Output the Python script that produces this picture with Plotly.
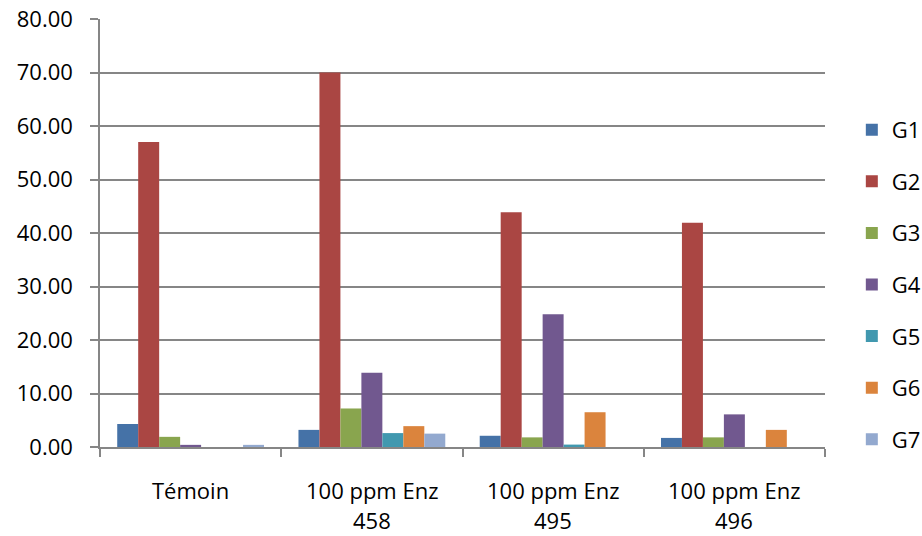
import plotly.graph_objects as go

categories = ["Témoin", "100 ppm Enz<br>458", "100 ppm Enz<br>495", "100 ppm Enz<br>496"]
series_names = ["G1", "G2", "G3", "G4", "G5", "G6", "G7"]
g1 = [4.3, 3.2, 2.1, 1.7]
g2 = [57.0, 70.0, 43.9, 41.9]
g3 = [1.9, 7.2, 1.8, 1.8]
g4 = [0.4, 13.9, 24.8, 6.1]
g5 = [0.0, 2.6, 0.45, 0.0]
g6 = [0.0, 3.9, 6.5, 3.2]
g7 = [0.4, 2.5, 0.0, 0.0]
series_values = [g1, g2, g3, g4, g5, g6, g7]
colors = ["#4572A7", "#AA4643", "#89A54E", "#71588F", "#4198AF", "#DB843D", "#93A9CF"]
y_ticks = [0, 10, 20, 30, 40, 50, 60, 70, 80]

font_family = "Open Sans, Liberation Sans, sans-serif"
axis_grey = "#868686"
plot_h = 536 - 19 - 89

fig = go.Figure()
for name, vals, col in zip(series_names, series_values, colors):
    fig.add_trace(go.Bar(
        x=categories, y=vals, name=name, legendgroup=name,
        marker=dict(color=col, line=dict(width=0)),
    ))

# Category labels: each line placed separately for wider line spacing
annotations = []
for cat in categories:
    for i, line in enumerate(cat.split("<br>")):
        annotations.append(dict(
            x=cat, xref="x", y=(-43 - 30 * i) / plot_h, yref="paper",
            text=line, showarrow=False, xanchor="center", yanchor="middle",
            font=dict(size=22, family=font_family, color="#000000"),
        ))

fig.update_layout(
    width=922, height=536,
    margin=dict(l=100, r=97, t=19, b=89, autoexpand=False),
    paper_bgcolor="white", plot_bgcolor="white",
    barmode="group", bargap=0.19, bargroupgap=0,
    font=dict(family=font_family, size=22, color="#000000"),
    legend=dict(
        x=1.037, xanchor="left", y=0.79, yanchor="top",
        font=dict(size=22), tracegroupgap=20,
        itemwidth=30, bgcolor="rgba(0,0,0,0)",
    ),
    showlegend=True,
    annotations=annotations,
)
fig.update_xaxes(
    type="category", showline=True, linecolor=axis_grey, linewidth=1.5,
    ticks="outside", tickson="boundaries", ticklen=8, tickcolor=axis_grey,
    tickwidth=1.5, showgrid=False, showticklabels=False,
)
fig.update_yaxes(
    range=[0, 80], tickvals=y_ticks, tickformat=".2f",
    showline=True, linecolor=axis_grey, linewidth=1.5,
    ticks="outside", ticklen=8, tickcolor=axis_grey, tickwidth=1.5,
    showgrid=True, gridcolor=axis_grey, gridwidth=1.5,
    zeroline=False, tickfont=dict(size=22), ticklabelstandoff=13,
)

fig.write_html("out.html")
